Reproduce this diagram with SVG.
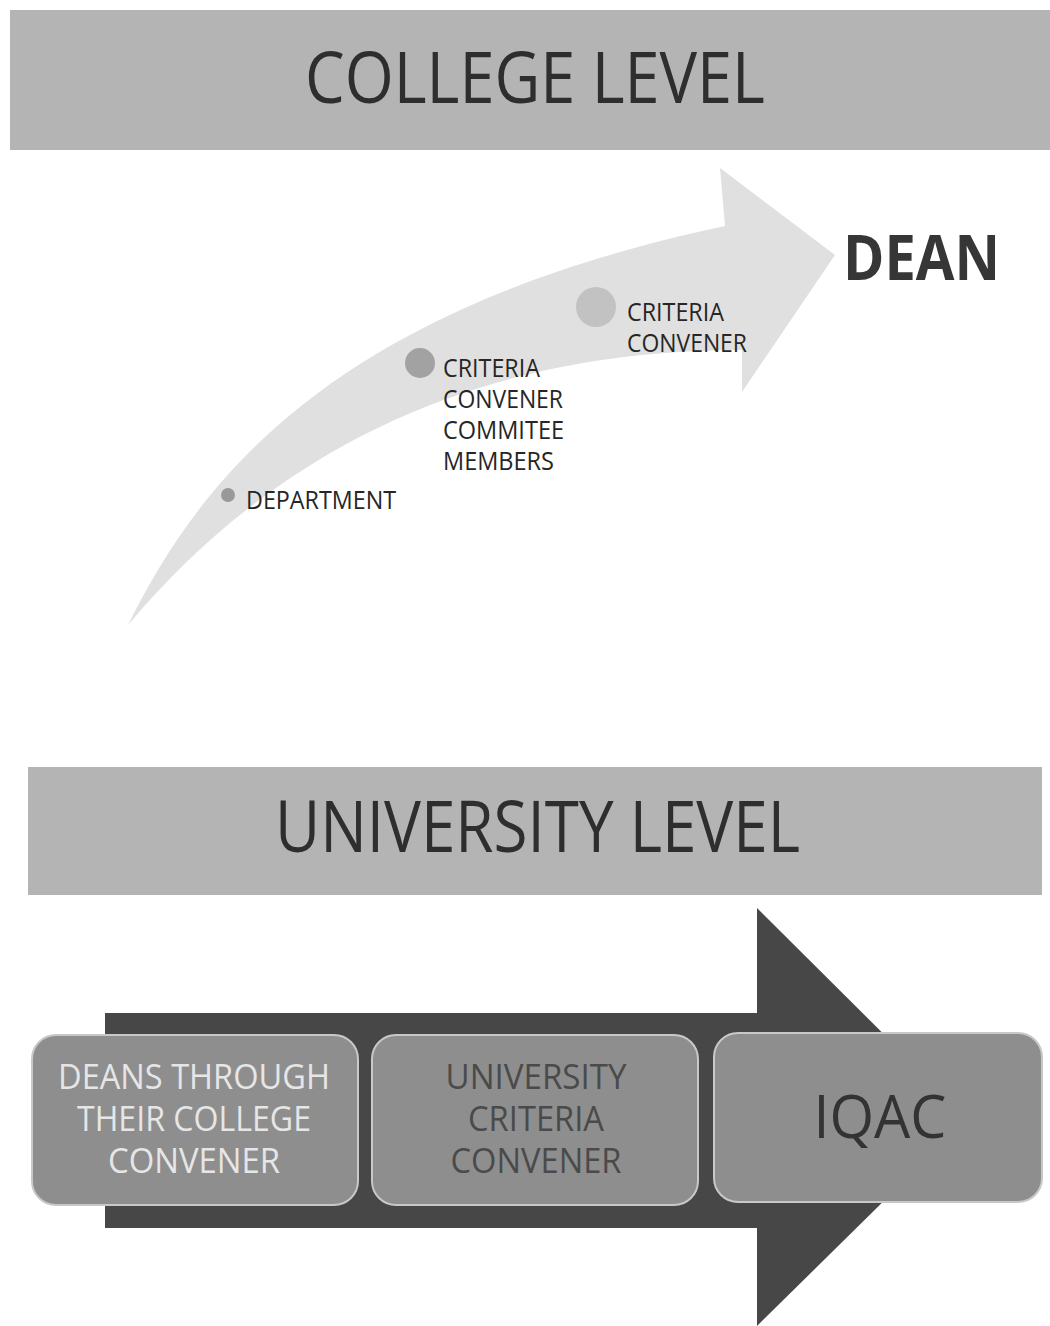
<svg xmlns="http://www.w3.org/2000/svg" width="1050" height="1326" viewBox="0 0 1050 1326">
<style>
text{font-family:"Open Sans","Liberation Sans",sans-serif;}
.banner{fill:#b4b4b4;}
.title{fill:#2e2e2e;font-size:72px;}
.small{fill:#262626;font-size:25px;}
.box{fill:#8e8e8e;stroke:#c8c8c8;stroke-width:2;}
.bt{font-size:34px;text-anchor:middle;}
</style>
<rect width="1050" height="1326" fill="#ffffff"/>
<g id="college-banner">
<rect class="banner" x="10" y="10" width="1040" height="140"/>
<text class="title" x="305" y="103" textLength="460" lengthAdjust="spacingAndGlyphs">COLLEGE LEVEL</text>
</g>
<g id="connectors">
<path id="curved-arrow" d="M128 625 C200 480 330 310 725 226 L720 168 L835 255 L742 392 L742 350 C520 350 300 420 128 625 Z" fill="#e0e0e0"/>
<rect x="105" y="1013" width="652" height="215" fill="#474747"/>
<polygon points="757,908 968,1118 757,1326" fill="#474747"/>
</g>
<g id="department">
<circle cx="228" cy="495" r="7" fill="#999999"/>
<text class="small" x="246" y="509" textLength="150" lengthAdjust="spacingAndGlyphs">DEPARTMENT</text>
</g>
<g id="committee">
<circle cx="420" cy="363" r="15" fill="#a2a2a2"/>
<text class="small" x="443" y="377" textLength="97" lengthAdjust="spacingAndGlyphs">CRITERIA</text>
<text class="small" x="443" y="408" textLength="120" lengthAdjust="spacingAndGlyphs">CONVENER</text>
<text class="small" x="443" y="439" textLength="121" lengthAdjust="spacingAndGlyphs">COMMITEE</text>
<text class="small" x="443" y="470" textLength="111" lengthAdjust="spacingAndGlyphs">MEMBERS</text>
</g>
<g id="convener">
<circle cx="596" cy="307" r="20" fill="#c2c2c2"/>
<text class="small" x="627" y="321" textLength="97" lengthAdjust="spacingAndGlyphs">CRITERIA</text>
<text class="small" x="627" y="352" textLength="120" lengthAdjust="spacingAndGlyphs">CONVENER</text>
</g>
<g id="dean">
<text x="843" y="280" font-size="62" font-weight="bold" fill="#363636" textLength="157" lengthAdjust="spacingAndGlyphs">DEAN</text>
</g>
<g id="university-banner">
<rect class="banner" x="28" y="767" width="1014" height="128"/>
<text class="title" x="275" y="852" font-size="67" textLength="525" lengthAdjust="spacingAndGlyphs">UNIVERSITY LEVEL</text>
</g>
<g id="deans">
<rect class="box" x="32" y="1035" width="326" height="170" rx="24"/>
<text class="bt" x="194" y="1089" fill="#e6e6e6" textLength="272" lengthAdjust="spacingAndGlyphs">DEANS THROUGH</text>
<text class="bt" x="194" y="1131" fill="#e6e6e6" textLength="234" lengthAdjust="spacingAndGlyphs">THEIR COLLEGE</text>
<text class="bt" x="194" y="1173" fill="#e6e6e6" textLength="172" lengthAdjust="spacingAndGlyphs">CONVENER</text>
</g>
<g id="university-convener">
<rect class="box" x="372" y="1035" width="326" height="170" rx="24"/>
<text class="bt" x="536" y="1089" fill="#4a4a4a" textLength="181" lengthAdjust="spacingAndGlyphs">UNIVERSITY</text>
<text class="bt" x="536" y="1131" fill="#4a4a4a" textLength="136" lengthAdjust="spacingAndGlyphs">CRITERIA</text>
<text class="bt" x="536" y="1173" fill="#4a4a4a" textLength="171" lengthAdjust="spacingAndGlyphs">CONVENER</text>
</g>
<g id="iqac">
<rect class="box" x="714" y="1033" width="328" height="169" rx="24" fill="#959595"/>
<text x="880" y="1138" font-size="60" text-anchor="middle" fill="#333333" textLength="133" lengthAdjust="spacingAndGlyphs">IQAC</text>
</g>
</svg>
